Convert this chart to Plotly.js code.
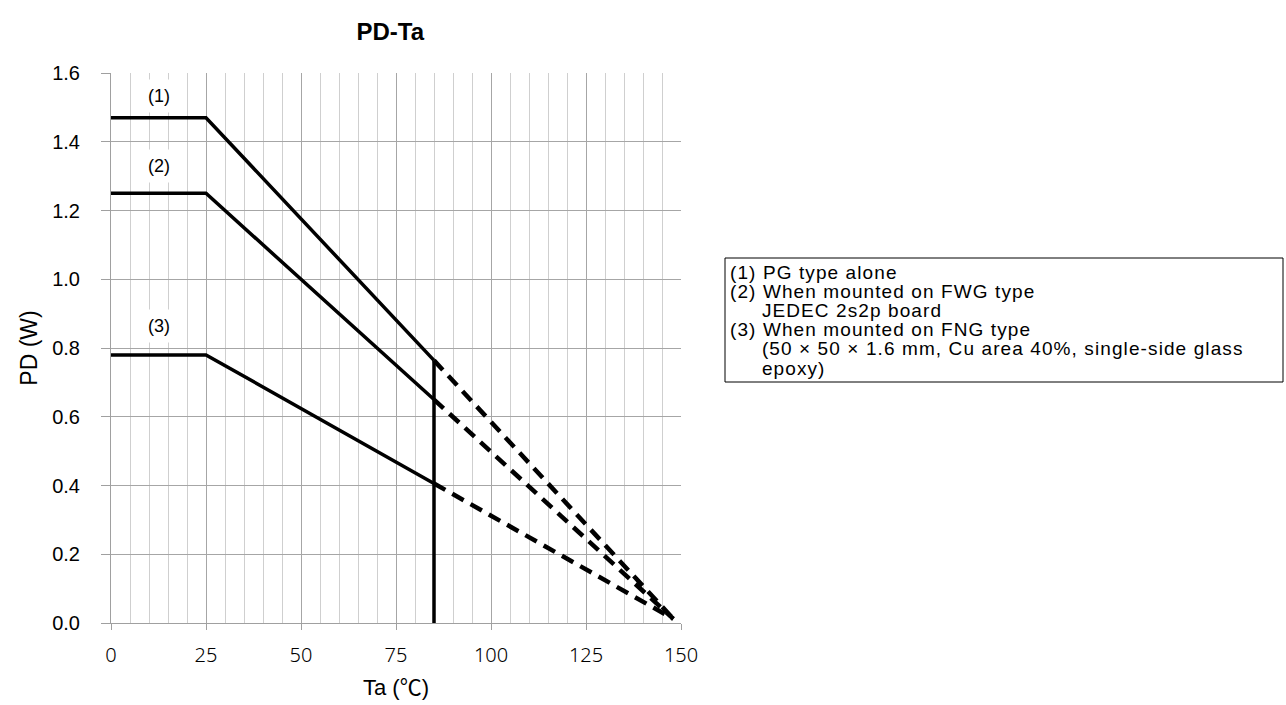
<!DOCTYPE html>
<html>
<head>
<meta charset="utf-8">
<script src="https://cdn.plot.ly/plotly-3.0.1.min.js"></script>
<style>
html,body{margin:0;padding:0;background:#fff;}
#chart{width:1286px;height:705px;}
.xtick text{font-stretch:condensed;}
</style>
</head>
<body>
<div id="chart"></div>
<script>
// Solid (rated) segments, Ta in °C, PD in W
const ta_solid = [0, 25, 85];
const pd1_solid = [1.47, 1.47, 0.764];
const pd2_solid = [1.25, 1.25, 0.65];
const pd3_solid = [0.78, 0.78, 0.406];
// Dashed (extrapolated) segments
const ta_dash = [85, 148];
const pd1_dash = [0.764, 0.012];
const pd2_dash = [0.65, 0.012];
const pd3_dash = [0.406, 0.012];
// Vertical limit line at Ta = 85
const ta_limit = [85, 85];
const pd_limit = [0, 0.764];
// Curve labels
const label_text = ["(1)", "(2)", "(3)"];
const label_x = [12.6, 12.6, 12.6];
const label_y = [1.532, 1.329, 0.864];
// Tick values
const xticks = [0, 25, 50, 75, 100, 125, 150];
const yticks = [0, 0.2, 0.4, 0.6, 0.8, 1.0, 1.2, 1.4, 1.6];
const yticktext = yticks.map(v => v.toFixed(1));
// Legend text
const NB = "\u00A0\u00A0\u00A0\u00A0\u00A0";
const legend_lines = [
  "(1) PG type alone",
  "(2) When mounted on FWG type",
  NB + "JEDEC 2s2p board",
  "(3) When mounted on FNG type",
  NB + "(50 \u00D7 50 \u00D7 1.6 mm, Cu area 40%, single-side glass",
  NB + "epoxy)"
];

const FONT = 'Liberation Sans, Arial, Noto Sans CJK JP, sans-serif';
const XFONT = 'Noto Sans, Liberation Sans, sans-serif';

const solidLine = {color: '#000', width: 3.5};
const dashLine = {color: '#000', width: 4.5, dash: '13px,8px'};
const traces = [
  {x: ta_solid, y: pd1_solid, mode: 'lines', line: solidLine},
  {x: ta_solid, y: pd2_solid, mode: 'lines', line: solidLine},
  {x: ta_solid, y: pd3_solid, mode: 'lines', line: solidLine},
  {x: ta_dash, y: pd1_dash, mode: 'lines', line: dashLine},
  {x: ta_dash, y: pd2_dash, mode: 'lines', line: dashLine},
  {x: ta_dash, y: pd3_dash, mode: 'lines', line: dashLine},
  {x: ta_limit, y: pd_limit, mode: 'lines', line: {color: '#000', width: 3.5}}
];

const annotations = label_text.map((t, i) => ({
  x: label_x[i], y: label_y[i], xref: 'x', yref: 'y', text: t, showarrow: false,
  font: {family: FONT, size: 18, color: '#000'},
  bgcolor: '#fff', borderpad: 6
}));
const plotTop = 73, plotH = 550, plotL = 111, plotW = 570;
const boxL = 725, boxR = 1283, boxT = 258, boxB = 382;
const lineStart = 272, linePitch = 19.2;
legend_lines.forEach((t, i) => {
  annotations.push({
    xref: 'paper', yref: 'paper',
    x: (728 - plotL) / plotW, y: 1 - (lineStart + i * linePitch - plotTop) / plotH,
    xanchor: 'left', yanchor: 'middle', align: 'left', showarrow: false, text: t,
    font: {family: FONT, size: 19, color: '#000'}
  });
});

const layout = {
  width: 1286, height: 705,
  margin: {l: plotL, r: 1286 - plotL - plotW, t: plotTop, b: 705 - plotTop - plotH},
  paper_bgcolor: '#fff', plot_bgcolor: '#fff',
  showlegend: false,
  title: {text: '<b>PD-Ta</b>', x: 0.3035, xanchor: 'center', y: 0.955, yanchor: 'middle',
    font: {family: FONT, size: 24, color: '#000'}},
  xaxis: {
    range: [0, 150], tickvals: xticks, ticktext: xticks.map(String),
    showgrid: true, gridcolor: '#a6a6a6', gridwidth: 1,
    minor: {dtick: 5, tick0: 0, showgrid: true, gridcolor: '#cfcfcf', gridwidth: 1, ticks: ''},
    ticks: 'outside', ticklen: 6, tickcolor: '#a0a0a0', tickwidth: 1,
    showline: true, linecolor: '#a0a0a0', linewidth: 1, zeroline: false,
    tickfont: {family: XFONT, size: 20, color: '#000', weight: 300},
    ticklabelstandoff: 8,
    title: {text: 'Ta (\u2103)', standoff: 12,
      font: {family: FONT, size: 22, color: '#000'}},
    fixedrange: true
  },
  yaxis: {
    range: [0, 1.6], tickvals: yticks, ticktext: yticktext,
    showgrid: true, gridcolor: '#a6a6a6', gridwidth: 1,
    ticks: 'outside', ticklen: 9, tickcolor: '#a0a0a0', tickwidth: 1,
    showline: true, linecolor: '#a0a0a0', linewidth: 1, zeroline: false,
    tickfont: {family: FONT, size: 20, color: '#000'},
    ticklabelstandoff: 17,
    title: {text: 'PD (W)', standoff: 8,
      font: {family: FONT, size: 23, color: '#000'}},
    fixedrange: true
  },
  shapes: [{type: 'rect', xref: 'paper', yref: 'paper',
    x0: (boxL - plotL) / plotW, x1: (boxR - plotL) / plotW,
    y0: 1 - (boxB - plotTop) / plotH, y1: 1 - (boxT - plotTop) / plotH,
    line: {color: '#000', width: 1}, fillcolor: 'rgba(0,0,0,0)'}],
  annotations: annotations
};

Plotly.newPlot('chart', traces, layout, {displayModeBar: false, staticPlot: true}).then(gd => {
  gd.querySelectorAll('g.annotation').forEach(g => {
    const idx = +g.getAttribute('data-index');
    if (idx >= label_text.length) {
      g.querySelectorAll('text').forEach(t => t.style.letterSpacing = '1.1px');
    }
  });
});
</script>
</body>
</html>
